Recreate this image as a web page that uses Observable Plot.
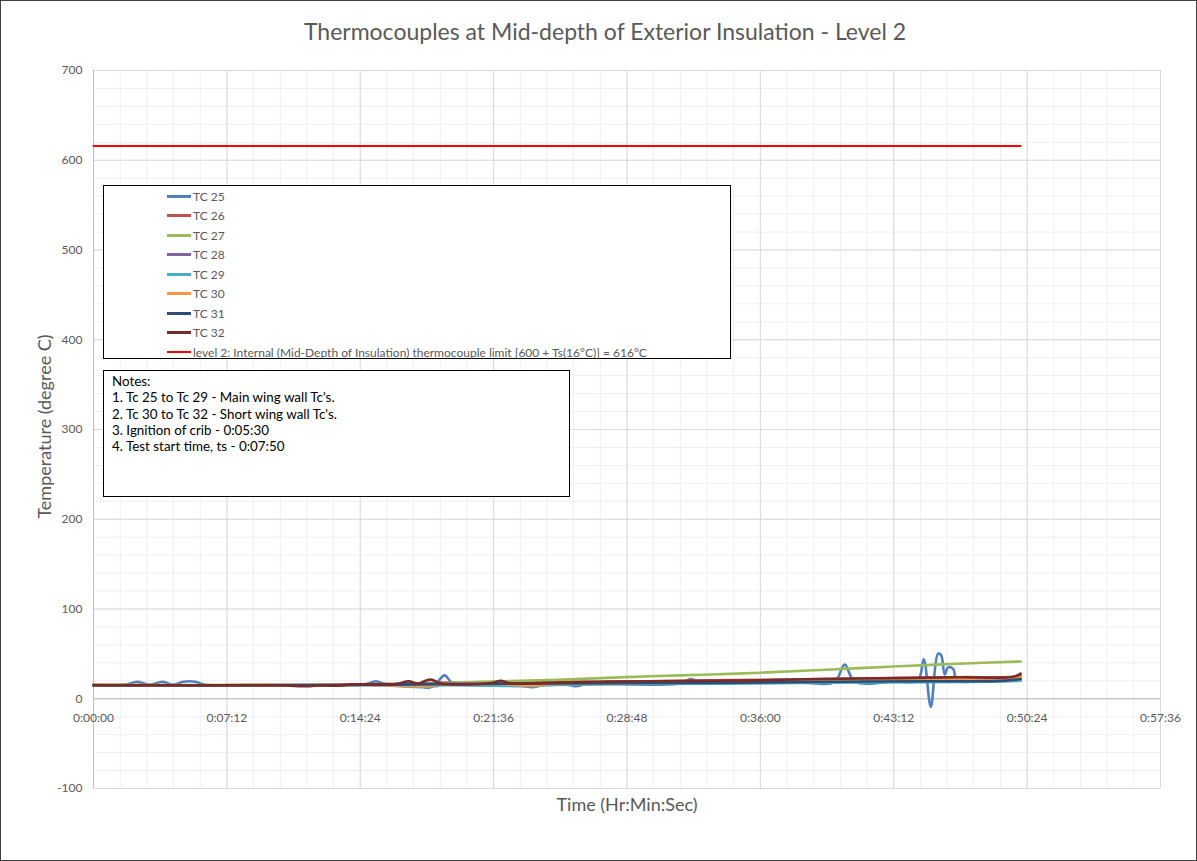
<!DOCTYPE html>
<html>
<head>
<meta charset="utf-8">
<script src="https://cdn.jsdelivr.net/npm/d3@7"></script>
<script src="https://cdn.jsdelivr.net/npm/@observablehq/plot@0.6"></script>
<style>
  html, body { margin: 0; padding: 0; background: #fff; }
  #wrap { position: relative; width: 1197px; height: 861px; font-family: Lato, "Open Sans", sans-serif; }
  #wrap svg { display: block; outline: 1px solid #404040; outline-offset: -1px; }
  .box { position: absolute; background: #fff; border: 1px solid #000; box-sizing: border-box; }
  #legend { left: 103px; top: 185px; width: 628px; height: 174px; }
  .lrow { position: absolute; left: 63px; height: 14px; display: flex; align-items: center; font-size: 12px; color: #595959; white-space: nowrap; }
  .lrow .sw { width: 24px; height: 3px; margin-right: 2px; }
  #notes { left: 103px; top: 370px; width: 467px; height: 127px; padding: 2px 0 0 8px; font-size: 13.4px; line-height: 16.3px; color: #000; }
</style>
</head>
<body>
<div id="wrap"></div>
<script>
// ---- data (time in seconds, temperature in °C) ----
const title = "Thermocouples at Mid-depth of Exterior Insulation - Level 2";
const yTitle = "Temperature (degree C)";
const xTitle = "Time (Hr:Min:Sec)";
const seriesNames = ["TC 25", "TC 26", "TC 27", "TC 28", "TC 29", "TC 30", "TC 31", "TC 32"];
const seriesColors = ["#4F81BD", "#C0504D", "#9BBB59", "#8064A2", "#4BACC6", "#F79646", "#2C4D75", "#772C2A"];
const limitName = "level 2: Internal (Mid-Depth of Insulation) thermocouple limit [600 + Ts(16°C)] = 616°C";
const limitColor = "#FF0000";
const limitValue = 616;
const limitTimes = [0, 3003];
const xTickValues = [0, 432, 864, 1296, 1728, 2160, 2592, 3024, 3456];
const yTickValues = [-100, 0, 100, 200, 300, 400, 500, 600, 700];
const notesLines = [
  "Notes:",
  "1. Tc 25 to Tc 29 - Main wing wall Tc's.",
  "2. Tc 30 to Tc 32 - Short wing wall Tc's.",
  "3. Ignition of crib - 0:05:30",
  "4. Test start time, ts - 0:07:50"
];

const tc25 = [[0,15.5],[100,15.5],[143,19],[180,15.5],[224,19],[260,15.5],[290,19],[330,19],[360,15.5],[600,15.5],[760,15],[880,16],[914,19.5],[950,16],[1040,16.5],[1082,12],[1110,17],[1137,26],[1165,17],[1300,17],[1360,16],[1422,13],[1470,16.5],[1530,16],[1562,14],[1600,16.5],[1900,17],[1934,22],[1970,17.5],[2100,17.5],[2300,18],[2400,18.5],[2433,38],[2466,19],[2600,19.5],[2670,20],[2689,44],[2712,-9],[2735,50],[2745,49],[2757,27],[2768,35],[2785,33],[2797,20.5],[2900,20.5],[2990,20.5],[3003,21]];
const tc26 = [[0,15.5],[300,15],[600,15],[780,15],[840,16],[1000,16.5],[1130,18],[1200,17.5],[1320,18],[1500,18.5],[1650,19],[1800,19.5],[2000,20.5],[2160,21],[2350,22],[2600,23],[2800,24],[2980,24.5],[3003,26]];
const tc27 = [[0,15.5],[600,15.5],[1000,16.5],[1137,17.5],[1320,19.5],[1500,21],[1643,23],[1800,25],[2000,27],[2161,29],[2355,32],[2592,36],[2800,39],[3003,41.5]];
const tc28 = [[0,15],[600,15],[900,16],[1200,17],[1500,17.5],[1800,18.5],[2100,19.5],[2400,20.5],[2700,21],[3003,22]];
const tc29 = [[0,15],[600,15],[900,15.5],[1082,13],[1137,15],[1422,14],[1500,15.5],[1800,16.5],[2100,17],[2400,18],[2700,18.5],[2900,19],[3003,20]];
const tc30 = [[0,15],[600,15],[900,15.5],[1082,14],[1137,16],[1300,16.5],[1422,14.5],[1500,16.5],[1800,18],[2100,19],[2400,20.5],[2700,21.5],[2900,22.5],[3003,23.5]];
const tc31 = [[0,15],[600,15],[900,15.5],[1200,16.5],[1500,17],[1800,17.5],[2100,18],[2400,19],[2700,19.5],[2950,20],[3003,22]];
const tc32 = [[0,15],[300,15],[600,15],[700,14],[730,15],[780,14.5],[840,16],[980,16.5],[1021,19.5],[1050,17],[1092,21.5],[1125,17],[1290,17.5],[1319,20],[1345,17.5],[1500,18],[1643,19],[1800,19.5],[2000,20],[2161,20.5],[2355,22],[2600,23],[2800,24],[2980,24.5],[3003,28]];
const seriesData = [tc25, tc26, tc27, tc28, tc29, tc30, tc31, tc32];

// ---- build ----
const fmtTime = s => {
  const h = Math.floor(s / 3600), m = Math.floor((s % 3600) / 60), sec = Math.round(s % 60);
  return `${h}:${String(m).padStart(2, "0")}:${String(sec).padStart(2, "0")}`;
};
const rows = [];
seriesData.forEach((arr, i) => arr.forEach(([t, v]) => rows.push({t, v, name: seriesNames[i]})));
const limitRows = limitTimes.map(t => ({t, v: limitValue}));

const minorX = d3.range(0, 3456.01, 86.4);
const minorY = d3.range(-100, 700.01, 20);
const textColor = "#595959";

const chart = Plot.plot({
  width: 1197,
  height: 861,
  marginLeft: 93,
  marginRight: 37,
  marginTop: 70,
  marginBottom: 73,
  style: {fontFamily: "Lato, 'Open Sans', sans-serif", background: "#fff"},
  x: {domain: [0, 3456], axis: null},
  y: {domain: [-100, 700], axis: null},
  color: {domain: seriesNames, range: seriesColors},
  marks: [
    Plot.gridX(minorX, {stroke: "#efefef", strokeOpacity: 1}),
    Plot.gridY(minorY, {stroke: "#efefef", strokeOpacity: 1}),
    Plot.gridX(xTickValues, {stroke: "#d9d9d9", strokeOpacity: 1}),
    Plot.gridY(yTickValues, {stroke: "#d9d9d9", strokeOpacity: 1}),
    Plot.ruleX([0], {stroke: "#bfbfbf"}),
    Plot.ruleY([0], {stroke: "#bfbfbf"}),
    Plot.axisY(yTickValues, {tickSize: 0, tickPadding: 11, fontSize: 12, color: textColor, tickFormat: d => String(d), label: null}),
    Plot.text(xTickValues, {x: d => d, y: () => 0, dy: 19, text: fmtTime, fontSize: 12, fill: textColor}),
    Plot.line(limitRows, {x: "t", y: "v", stroke: limitColor, strokeWidth: 2}),
    Plot.line(rows, {x: "t", y: "v", z: "name", stroke: "name", strokeWidth: 2.6, curve: "catmull-rom"}),
    Plot.text([title], {frameAnchor: "top", lineAnchor: "middle", dx: -22, dy: -38, fontSize: 23, fill: textColor}),
    Plot.text([yTitle], {frameAnchor: "left", textAnchor: "middle", lineAnchor: "middle", dx: -48, dy: -3, rotate: -90, fontSize: 18, fill: textColor}),
    Plot.text([xTitle], {frameAnchor: "bottom", lineAnchor: "middle", dy: 17, fontSize: 18, fill: textColor})
  ]
});

const wrap = document.getElementById("wrap");
wrap.appendChild(chart);

// legend
const legend = document.createElement("div");
legend.id = "legend"; legend.className = "box";
const legendItems = seriesNames.map((n, i) => ({n, c: seriesColors[i], h: 3})).concat([{n: limitName, c: limitColor, h: 2}]);
legendItems.forEach((it, i) => {
  const r = document.createElement("div");
  r.className = "lrow";
  r.style.top = (3 + i * 19.5) + "px";
  r.innerHTML = `<span class="sw" style="background:${it.c};height:${it.h}px"></span><span>${it.n}</span>`;
  legend.appendChild(r);
});
wrap.appendChild(legend);

// notes
const notes = document.createElement("div");
notes.id = "notes"; notes.className = "box";
notes.innerHTML = notesLines.map(l => `<div>${l}</div>`).join("");
wrap.appendChild(notes);
</script>
</body>
</html>
